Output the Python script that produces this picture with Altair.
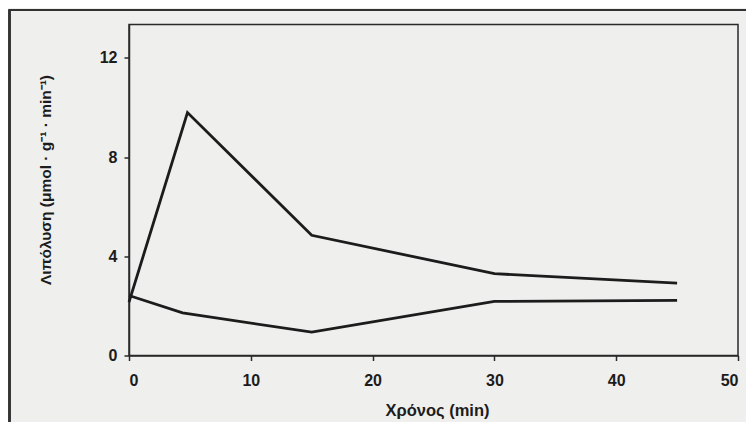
import altair as alt
import pandas as pd

# Data
time_upper = [0, 4.8, 15, 30, 45]
lipolysis_upper = [2.15, 9.8, 4.85, 3.3, 2.92]
time_lower = [0, 4.4, 15, 30, 45]
lipolysis_lower = [2.42, 1.72, 0.94, 2.18, 2.22]
x_ticks = [0, 10, 20, 30, 40, 50]
y_ticks = [0, 4, 8, 12]

rows = []
for t, v in zip(time_upper, lipolysis_upper):
    rows.append({"t": t, "v": v, "s": "upper"})
for t, v in zip(time_lower, lipolysis_lower):
    rows.append({"t": t, "v": v, "s": "lower"})
df = pd.DataFrame(rows)

FONT = "Liberation Sans"
INK = "#1c1c1c"

lines = alt.Chart(df).mark_line(color=INK, strokeWidth=2.8, strokeJoin="miter").encode(
    x=alt.X("t:Q", scale=alt.Scale(domain=[0, 50], nice=False, zero=False),
            axis=alt.Axis(values=x_ticks, title="Χρόνος (min)", grid=False,
                          tickSize=5, labelPadding=12, labelFontSize=16,
                          titleX=308, titleY=60, titleBaseline="alphabetic",
                          titleFontSize=16.5)),
    y=alt.Y("v:Q", scale=alt.Scale(domain=[0, 13.35], nice=False),
            axis=alt.Axis(values=y_ticks, title="Λιπόλυση (μmol · g⁻¹ · min⁻¹)",
                          grid=False, tickSize=5, labelPadding=7, labelFontSize=16,
                          titleX=-76, titleY=155, titleFontSize=15.5)),
    detail="s:N",
    order="t:Q",
)

top_frame = alt.Chart(df).mark_rule(color="#333333", strokeWidth=1.5).encode(
    x=alt.value(-120), x2=alt.value(617), y=alt.value(-14.5)
)
left_frame = alt.Chart(df).mark_rule(color="#333333", strokeWidth=1.5).encode(
    x=alt.value(-119.5), y=alt.value(-15), y2=alt.value(400)
)

chart = alt.layer(lines, top_frame, left_frame).properties(
    width=609, height=331,
    autosize=alt.AutoSizeParams(type="none"),
    padding={"left": 121, "top": 16.5, "right": 8, "bottom": 66.5},
    background="#efefed",
).configure_view(
    stroke="#2a2a2a", strokeWidth=1.5
).configure_axis(
    labelFont=FONT, titleFont=FONT, labelFontWeight="bold", titleFontWeight="bold",
    labelColor=INK, titleColor=INK, domainColor="#2a2a2a", tickColor="#2a2a2a",
    domainWidth=1.5, tickWidth=1.5,
)

chart.save("out.html", embed_options={"renderer": "svg", "actions": False})
